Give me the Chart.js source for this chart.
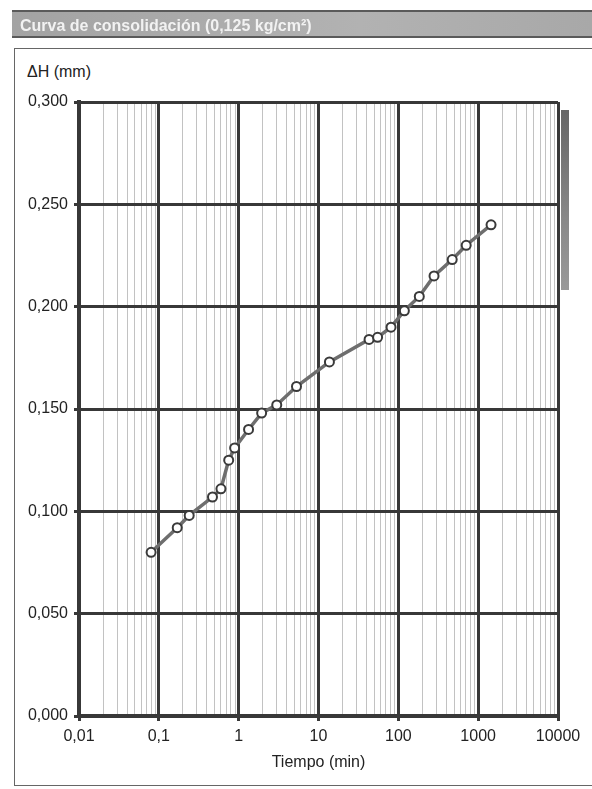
<!DOCTYPE html>
<html>
<head>
<meta charset="utf-8">
<script src="https://cdn.jsdelivr.net/npm/chart.js@4.4.1/dist/chart.umd.min.js"></script>
<style>
  html, body { margin: 0; padding: 0; background: #fff; }
  body { width: 592px; height: 789px; position: relative; overflow: hidden; font-family: "Liberation Sans", Arial, sans-serif; }
  #cabecera {
    position: absolute; left: 12px; top: 10px; width: 580px; height: 28px;
    background: linear-gradient(90deg, #a3a3a3, #b2b2b2 60%, #a8a8a8);
    border-top: 2px solid #5a5a5a; border-bottom: 2px solid #5a5a5a;
    color: #f2f2f2; font-weight: bold; font-size: 16px; line-height: 28px;
    padding-left: 8px; box-sizing: border-box; filter: blur(0.6px);
  }
  #marco {
    position: absolute; left: 14px; top: 48px; width: 600px; height: 738px;
    border: 1px solid #666; box-sizing: border-box;
  }
  #sombra {
    position: absolute; left: 561px; top: 110px; width: 8px; height: 180px;
    background: linear-gradient(180deg, #666, #888 60%, #999);
  }
  #etiquetaY { position: absolute; left: 27px; top: 63px; font-size: 16px; color: #222; }
  #lienzo { position: absolute; left: 0; top: 0; }
</style>
</head>
<body>
<div id="cabecera">Curva de consolidación (0,125 kg/cm²)</div>
<div id="marco"></div>
<div id="sombra"></div>
<div id="etiquetaY">ΔH (mm)</div>
<canvas id="lienzo" width="592" height="789"></canvas>
<script>
// lecturas del ensayo: tiempo (min) y asentamiento ΔH (mm)
const tiempos = [0.08, 0.17, 0.24, 0.47, 0.6, 0.75, 0.89, 1.33, 1.94, 3, 5.3, 13.7, 43, 55, 81, 119, 183, 280, 473, 708, 1450];
const asentamientos = [0.080, 0.092, 0.098, 0.107, 0.111, 0.125, 0.131, 0.140, 0.148, 0.152, 0.161, 0.173, 0.184, 0.185, 0.190, 0.198, 0.205, 0.215, 0.223, 0.230, 0.240];

const decadas = [0.01, 0.1, 1, 10, 100, 1000, 10000];
const marcasY = [0, 0.05, 0.1, 0.15, 0.2, 0.25, 0.3];

const esDecada = (v) => decadas.some((d) => Math.abs(v - d) < d * 1e-6);

// marcas secundarias 2..9 de cada decada para la cuadricula fina
const marcasX = [];
decadas.forEach((d, i) => {
  marcasX.push(d);
  if (i < decadas.length - 1) {
    for (let m = 2; m <= 9; m++) marcasX.push(+(d * m).toPrecision(6));
  }
});

const formatoX = (v) => String(v).replace(".", ",");
const fuente = { family: "'Liberation Sans', Arial", size: 16 };

const ctx = document.getElementById("lienzo");

new Chart(ctx, {
  type: "line",
  data: {
    datasets: [
      {
        data: tiempos.map((t, i) => ({ x: t, y: asentamientos[i] })),
        borderColor: "#6e6e6e",
        borderWidth: 3.5,
        pointRadius: 4.5,
        pointBorderWidth: 2,
        pointBorderColor: "#3a3a3a",
        pointBackgroundColor: "#ffffff",
        tension: 0,
      },
    ],
  },
  options: {
    responsive: false,
    animation: false,
    layout: { padding: { top: 102, right: 34, bottom: 0, left: 0 } },
    plugins: { legend: { display: false }, tooltip: { enabled: false } },
    scales: {
      x: {
        type: "logarithmic",
        min: 0.01,
        max: 10000,
        afterFit: (scale) => { scale.height = 73; },
        afterBuildTicks: (scale) => { scale.ticks = marcasX.map((v) => ({ value: v })); },
        ticks: {
          autoSkip: false,
          maxRotation: 0,
          padding: 6,
          color: "#222",
          font: fuente,
          callback: (v) => (esDecada(v) ? formatoX(v) : ""),
        },
        grid: {
          color: (c) => (esDecada(c.tick.value) ? "#383838" : "rgba(120,120,120,0.45)"),
          lineWidth: (c) => (esDecada(c.tick.value) ? 3 : 1),
          tickLength: 5,
          tickColor: (c) => (esDecada(c.tick.value) ? "#383838" : "rgba(0,0,0,0)"),
        },
        border: { color: "#383838", width: 4 },
        title: {
          display: true,
          text: "Tiempo (min)",
          color: "#222",
          font: fuente,
          padding: { top: 0, bottom: 17 },
        },
      },
      y: {
        min: 0,
        max: 0.3,
        afterFit: (scale) => { scale.width = 79; },
        afterBuildTicks: (scale) => { scale.ticks = marcasY.map((v) => ({ value: v })); },
        ticks: {
          padding: 6,
          color: "#222",
          font: fuente,
          callback: (v) => v.toFixed(3).replace(".", ","),
        },
        grid: { color: "#383838", lineWidth: 3, tickLength: 5 },
        border: { color: "#383838", width: 4 },
      },
    },
  },
});
</script>
</body>
</html>
